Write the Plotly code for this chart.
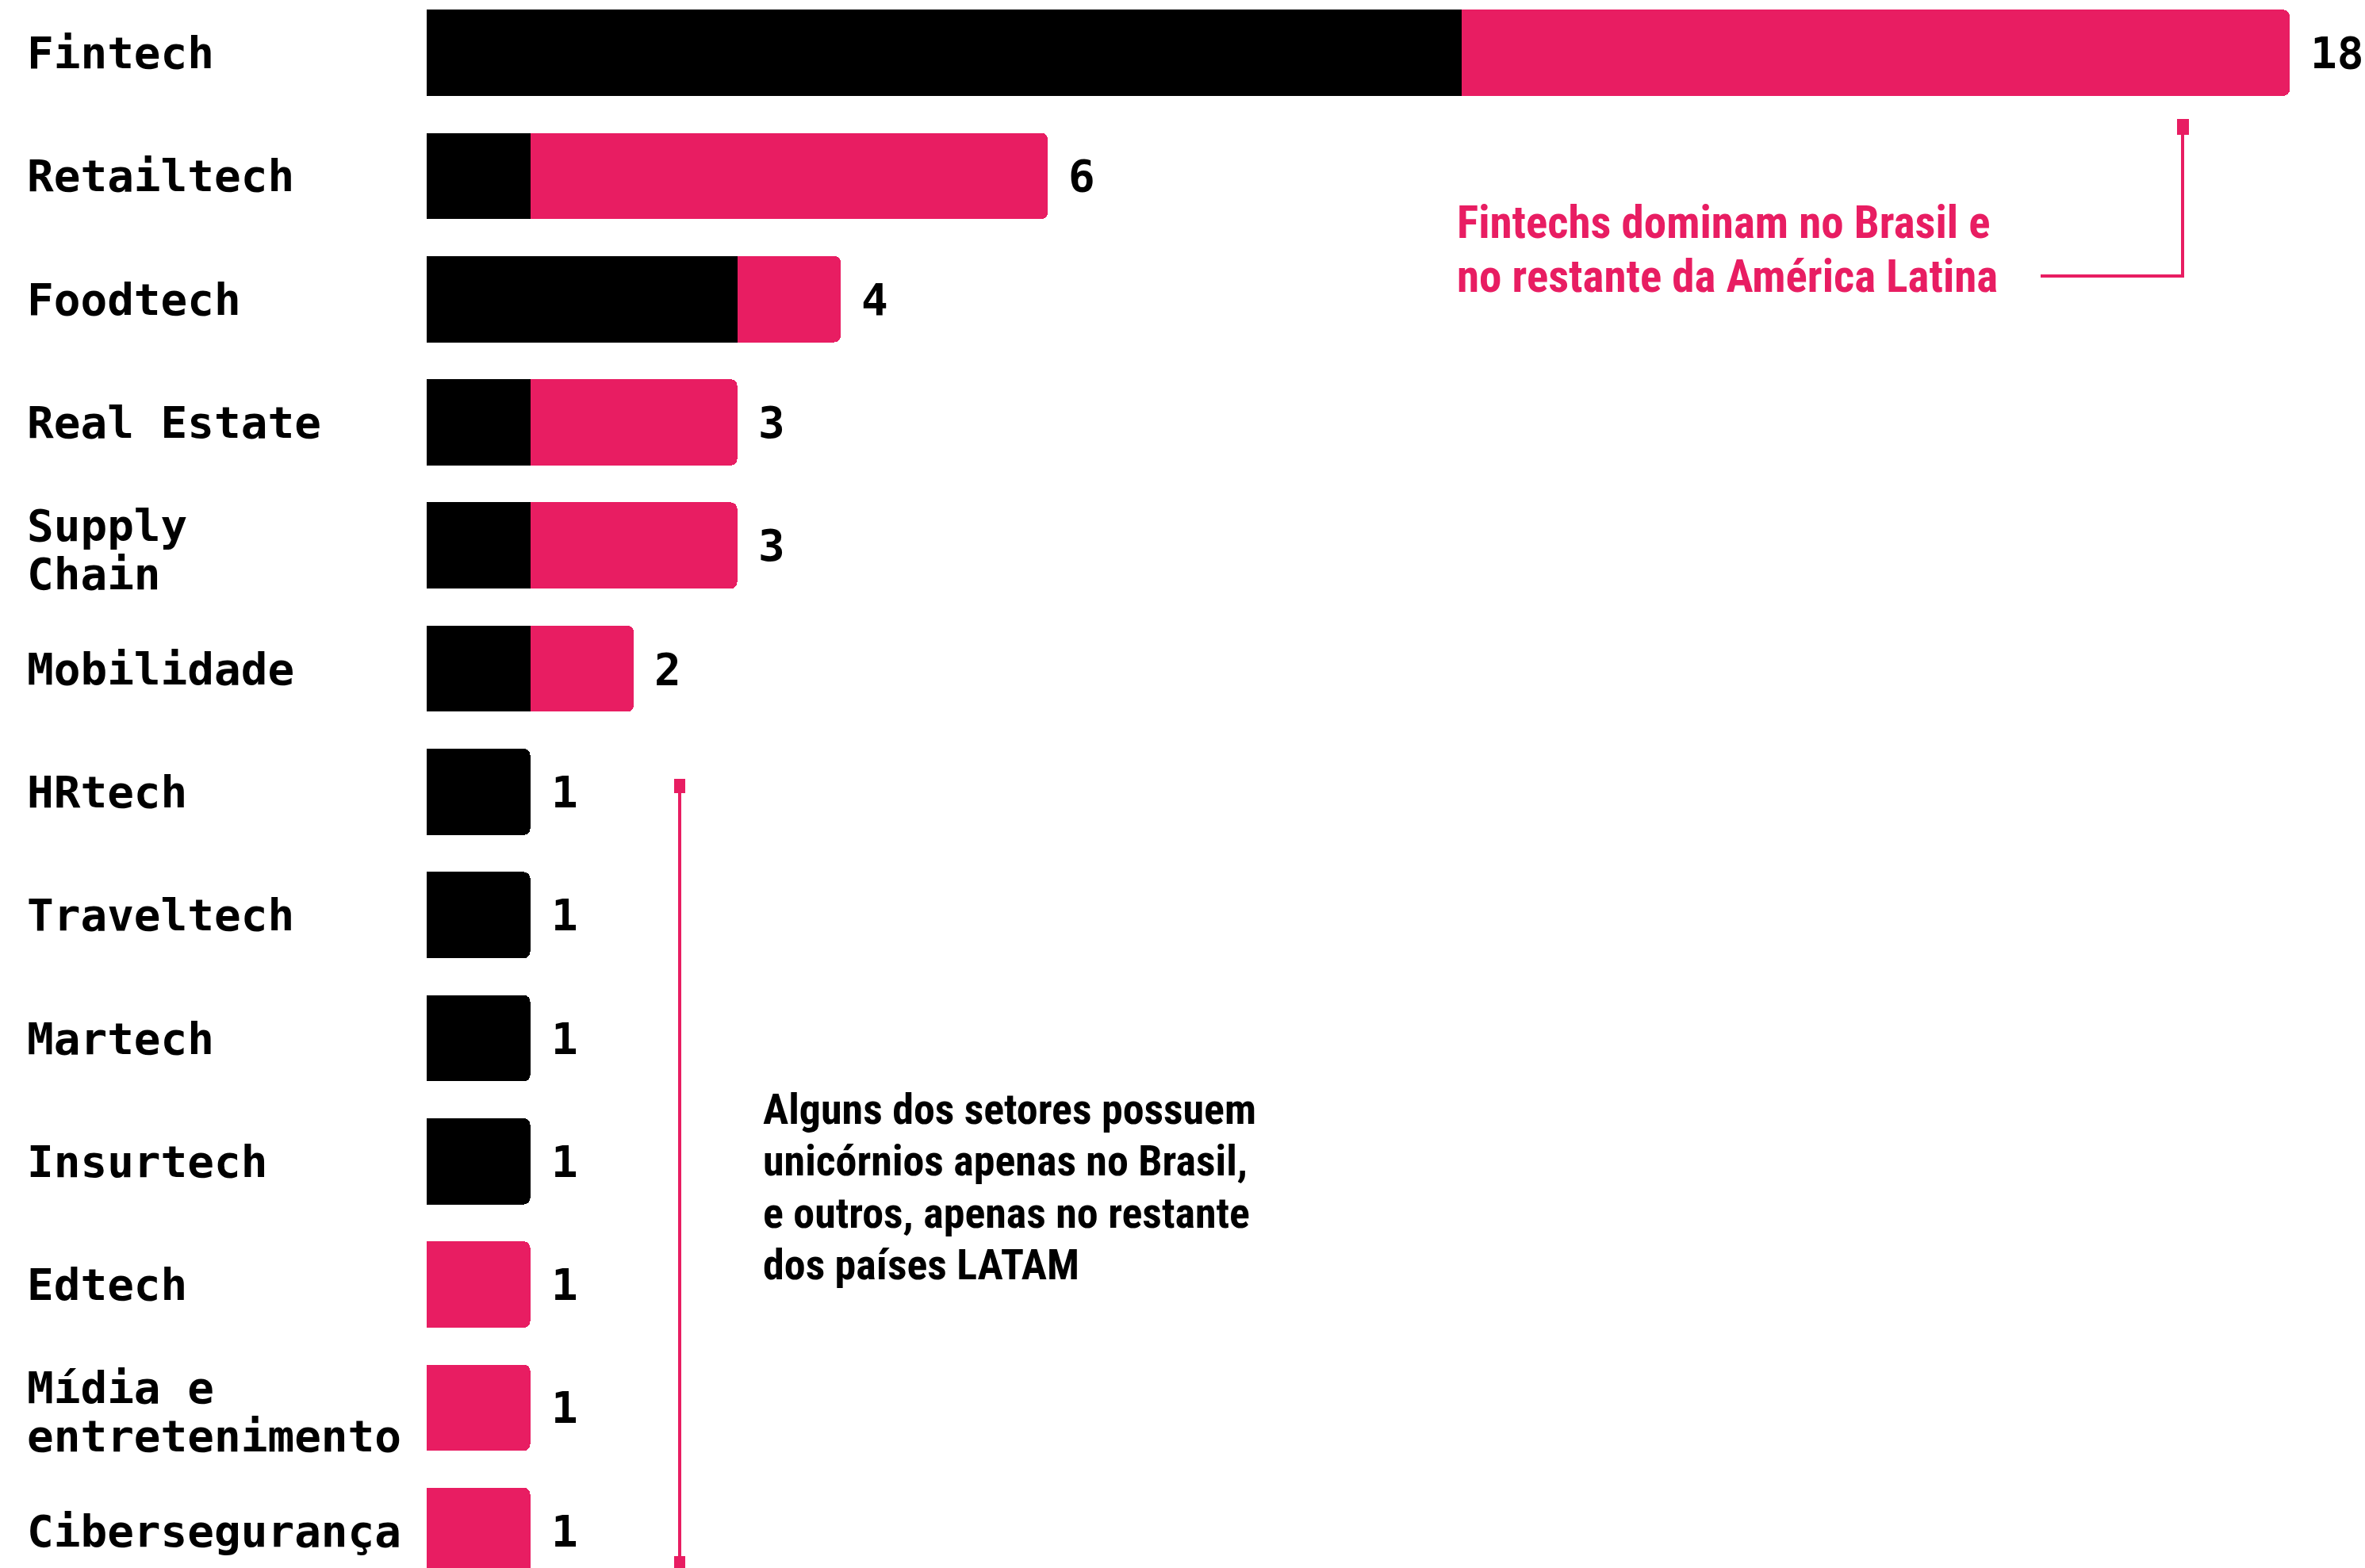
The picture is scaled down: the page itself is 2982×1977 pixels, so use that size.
import plotly.graph_objects as go

categories = ["Fintech", "Retailtech", "Foodtech", "Real Estate", "Supply<br>Chain",
              "Mobilidade", "HRtech", "Traveltech", "Martech", "Insurtech", "Edtech",
              "Mídia e<br>entretenimento", "Cibersegurança"]
brasil = [10, 1, 3, 1, 1, 1, 1, 1, 1, 1, 0, 0, 0]
latam = [8, 5, 1, 2, 2, 1, 0, 0, 0, 0, 1, 1, 1]
totals = [b + l for b, l in zip(brasil, latam)]

note_pink = ["Fintechs dominam no Brasil e", "no restante da América Latina"]
note_black = ["Alguns dos setores possuem", "unicórnios apenas no Brasil,",
              "e outros, apenas no restante", "dos países LATAM"]

PINK = "#E81D62"
W, H = 2982, 1977
LABEL_FONT = "DejaVu Sans Mono, Liberation Mono, monospace"
NOTE_FONT = "Liberation Sans Narrow, Arial Narrow, Roboto Condensed, Liberation Sans, sans-serif"

def px(x):
    return x / W

def py(y):
    return 1 - y / H

fig = go.Figure()
fig.add_trace(go.Bar(y=categories, x=brasil, orientation="h", marker=dict(color="#000000", line=dict(width=0)),
                     name="Brasil", hoverinfo="x+y"))
fig.add_trace(go.Bar(y=categories, x=latam, orientation="h", marker=dict(color=PINK, line=dict(width=0)),
                     name="Resto da América Latina", hoverinfo="x+y"))

label_font = dict(family=LABEL_FONT, size=56, color="#000000", weight="bold")
annotations = []
for c in categories:
    lines = c.split("<br>")
    if len(lines) == 1:
        annotations.append(dict(x=px(32), xref="paper", y=c, yref="y", text=c, showarrow=False,
                                xanchor="left", yanchor="middle", align="left", font=label_font))
    else:
        for line, shift in zip(lines, [25, -36]):
            annotations.append(dict(x=px(32), xref="paper", y=c, yref="y", text=line, showarrow=False,
                                    xanchor="left", yanchor="middle", align="left", yshift=shift,
                                    font=label_font))
for c, t in zip(categories, totals):
    annotations.append(dict(x=t, xref="x", y=c, yref="y", text=str(t), showarrow=False,
                            xanchor="left", yanchor="middle", xshift=24, font=label_font))

for line, ypix in zip(note_pink, [280, 348]):
    annotations.append(dict(x=px(1835), xref="paper", y=py(ypix), yref="paper", text=line,
                            showarrow=False, xanchor="left", yanchor="middle", align="left",
                            font=dict(family=NOTE_FONT, size=57, color=PINK, weight="bold")))
for line, ypix in zip(note_black, [1398, 1463, 1529, 1594]):
    annotations.append(dict(x=px(960), xref="paper", y=py(ypix), yref="paper", text=line,
                            showarrow=False, xanchor="left", yanchor="middle", align="left",
                            font=dict(family=NOTE_FONT, size=54, color="#000000", weight="bold")))

shapes = [
    dict(type="line", xref="paper", yref="paper", x0=px(2752), x1=px(2752), y0=py(160), y1=py(348),
         line=dict(color=PINK, width=4)),
    dict(type="line", xref="paper", yref="paper", x0=px(2573), x1=px(2754), y0=py(348), y1=py(348),
         line=dict(color=PINK, width=4)),
    dict(type="rect", xref="paper", yref="paper", x0=px(2745), x1=px(2760), y0=py(150), y1=py(170),
         fillcolor=PINK, line=dict(width=0)),
    dict(type="line", xref="paper", yref="paper", x0=px(857), x1=px(857), y0=py(991), y1=py(1970),
         line=dict(color=PINK, width=4)),
    dict(type="rect", xref="paper", yref="paper", x0=px(850), x1=px(864), y0=py(982), y1=py(1000),
         fillcolor=PINK, line=dict(width=0)),
    dict(type="rect", xref="paper", yref="paper", x0=px(850), x1=px(864), y0=py(1962), y1=py(1977),
         fillcolor=PINK, line=dict(width=0)),
]

fig.update_layout(
    width=W, height=H,
    margin=dict(l=0, r=0, t=0, b=0),
    paper_bgcolor="white", plot_bgcolor="white",
    barmode="stack", bargap=0.30, barcornerradius=8,
    showlegend=False,
    xaxis=dict(range=[-4.123, 18.728], visible=False, fixedrange=True),
    yaxis=dict(type="category", categoryorder="array", categoryarray=categories,
               range=[12.301, -0.429], visible=False, fixedrange=True),
    annotations=annotations,
    shapes=shapes,
)

fig.write_html("out.html")
